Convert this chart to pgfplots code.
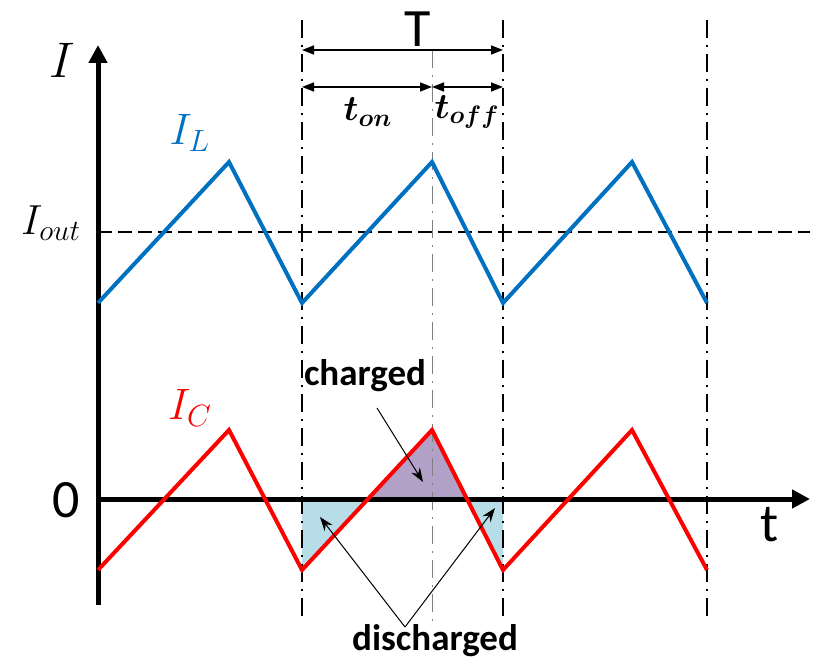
\RequirePackage{fix-cm}
\documentclass[border=0pt]{standalone}
\usepackage{fontspec}
\usepackage{bm}
\usepackage{pgfplots}
\pgfplotsset{compat=1.18}
\usetikzlibrary{arrows.meta}
\newfontfamily\calfont{Carlito}
\definecolor{ilblue}{RGB}{0,112,192}
\definecolor{icred}{RGB}{255,0,0}
\definecolor{chpurple}{RGB}{178,161,199}
\definecolor{dislblue}{RGB}{183,222,232}
\begin{document}
\begin{tikzpicture}
\begin{axis}[
  width=408.5pt, height=329.5pt, scale only axis,
  xmin=0, xmax=817, ymin=0, ymax=659,
  hide axis, clip=false,
]
% invisible bounding box
\path (rel axis cs:0,0) rectangle (rel axis cs:1,1);
% shaded areas
\addplot[draw=none, fill=dislblue] coordinates {(302,160) (302,89) (368,160)} -- cycle;
\addplot[draw=none, fill=chpurple] coordinates {(368,160) (432,229) (467,160)} -- cycle;
\addplot[draw=none, fill=dislblue] coordinates {(467,160) (503,160) (503,89)} -- cycle;
% vertical dash-dot lines
\addplot[black, line width=1pt, dash pattern=on 9pt off 3.5pt on 1pt off 3.5pt] coordinates {(302,639) (302,36)};
\addplot[black, line width=1pt, dash pattern=on 9pt off 3.5pt on 1pt off 3.5pt] coordinates {(503,639) (503,36)};
\addplot[black, line width=1pt, dash pattern=on 9pt off 3.5pt on 1pt off 3.5pt] coordinates {(707,639) (707,36)};
\addplot[gray, line width=0.5pt, dash pattern=on 9pt off 3.5pt on 1pt off 3.5pt] coordinates {(432,609) (432,36)};
% Iout dashed
\addplot[black, line width=0.9pt, dash pattern=on 7pt off 3pt] coordinates {(98,427) (810,427)};
% axes
\addplot[black, line width=2.5pt, -{Triangle[length=9pt,width=9pt]}] coordinates {(98,54) (98,614)};
\addplot[black, line width=2.5pt, -{Triangle[length=9pt,width=9pt]}] coordinates {(98,160) (810,160)};
% I_L
\addplot[ilblue, line width=2pt] coordinates {(98,356) (229,497) (302,356) (432,497) (503,356) (632,497) (707,356)};
% I_C
\addplot[icred, line width=2pt] coordinates {(98,89) (229,229) (302,89) (432,229) (503,89) (632,229) (707,89)};
% T arrows
\addplot[black, line width=0.8pt, {Triangle[length=6pt,width=4.5pt]}-{Triangle[length=6pt,width=4.5pt]}] coordinates {(302,609) (503,609)};
\addplot[black, line width=0.8pt, {Triangle[length=6pt,width=4.5pt]}-{Triangle[length=6pt,width=4.5pt]}] coordinates {(302,572) (432,572)};
\addplot[black, line width=0.8pt, {Triangle[length=6pt,width=4.5pt]}-{Triangle[length=6pt,width=4.5pt]}] coordinates {(432,572) (503,572)};
% charged / discharged arrows
\addplot[black, line width=0.5pt, -{Stealth[length=7pt,width=5pt]}] coordinates {(377,251) (423,177)};
\addplot[black, line width=0.5pt, -{Stealth[length=7pt,width=5pt]}] coordinates {(405,32) (320,142)};
\addplot[black, line width=0.5pt, -{Stealth[length=7pt,width=5pt]}] coordinates {(405,32) (495,151)};
% labels
\node at (axis cs:62,599) {\fontsize{25}{28}\selectfont $I$};
\node at (axis cs:190,526) {\fontsize{22}{26}\selectfont \color{ilblue}$I_L$};
\node at (axis cs:190,251) {\fontsize{22}{26}\selectfont \color{icred}$I_C$};
\node[anchor=east] at (axis cs:88,436) {\fontsize{21}{24}\selectfont $I_{out}$};
\node at (axis cs:66,159) {\calfont\fontsize{27}{30}\selectfont 0};
\node at (axis cs:770,134) {\calfont\fontsize{27}{30}\selectfont t};
\node at (axis cs:418,630) {\calfont\fontsize{27}{30}\selectfont T};
\node at (axis cs:368,547) {\fontsize{18}{20}\selectfont $\bm{t_{on}}$};
\node at (axis cs:467,547) {\fontsize{18}{20}\selectfont $\bm{t_{off}}$};
\node at (axis cs:365,283) {\calfont\bfseries\fontsize{18.5}{21}\selectfont charged};
\node at (axis cs:435,18) {\calfont\bfseries\fontsize{18.5}{21}\selectfont discharged};
\end{axis}
\end{tikzpicture}
\end{document}
